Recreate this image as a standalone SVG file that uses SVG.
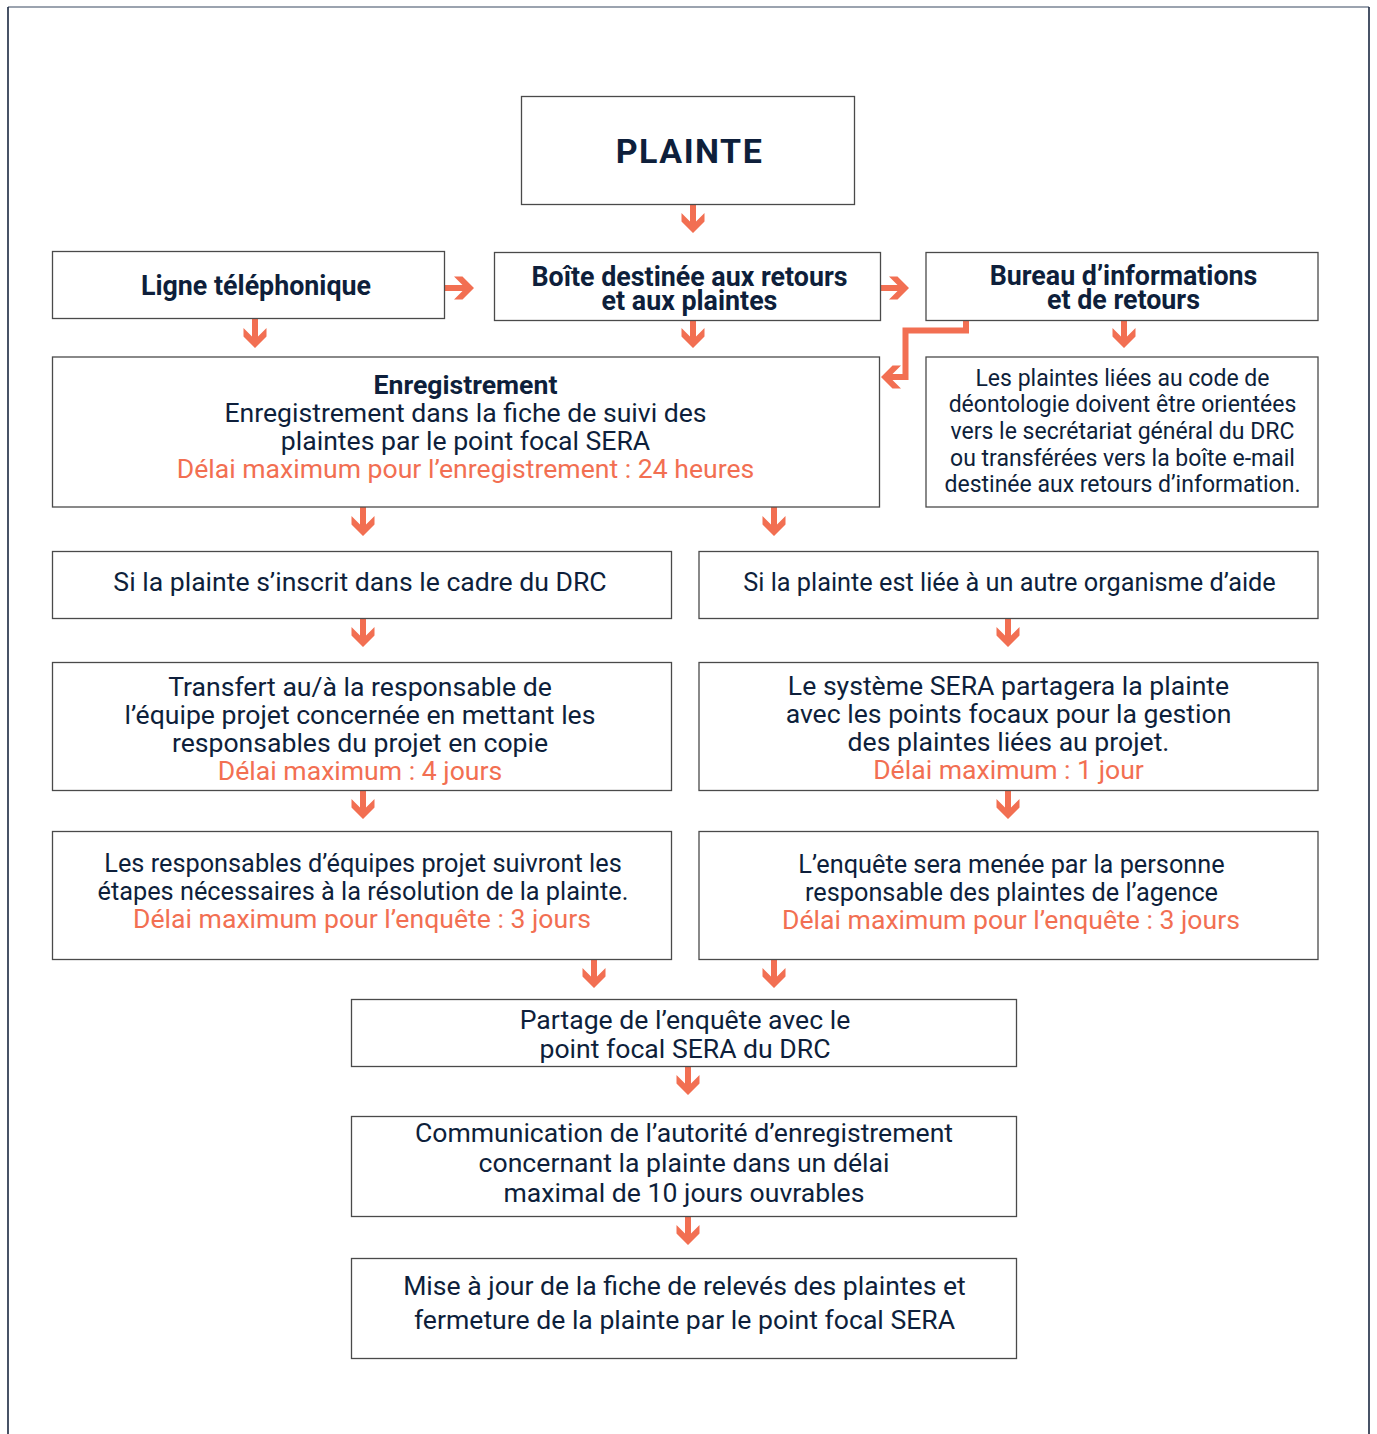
<svg xmlns="http://www.w3.org/2000/svg" xmlns:xlink="http://www.w3.org/1999/xlink" width="1377" height="1434" viewBox="0 0 1377 1434">
  <style>
    .box { fill: #ffffff; stroke: #4a4a4a; stroke-width: 1.3; }
    .t { font-family: Roboto, "Liberation Sans", sans-serif; font-size: 26.6px; fill: #0e1f3b; text-anchor: middle; }
    .h { font-weight: 700; font-size: 26.8px; }
    .o { fill: #f26f52; }
    .sm { font-size: 23px; }
    .md { font-size: 25.3px; }
    .arr { fill: #f26f52; }
    .wire { fill: none; stroke: #f26f52; stroke-width: 6; stroke-linejoin: miter; }
  </style>
  <defs>
    <!-- downward arrow, tip at origin, shaft 29px long -->
    <path id="arrow" d="M0,0 L11.5,-11.5 L11.5,-20 L3,-11.5 L3,-29 L-3,-29 L-3,-11.5 L-11.5,-20 L-11.5,-11.5 Z"/>
    <!-- arrowhead only, tip at origin -->
    <path id="head" d="M0,0 L11.5,-11.5 L11.5,-20 L0,-8.5 L-11.5,-20 L-11.5,-11.5 Z"/>
  </defs>

  <rect width="1377" height="1434" fill="#ffffff"/>

  <!-- page frame -->
  <g id="frame" fill="none" stroke-width="1.6">
    <line x1="8" y1="7" x2="1369" y2="7" stroke="#7a8594"/>
    <line x1="8" y1="7" x2="8" y2="1434" stroke="#1a2740"/>
    <line x1="1369" y1="7" x2="1369" y2="1434" stroke="#1a2740"/>
  </g>

  <g id="connectors" class="arr">
    <use xlink:href="#arrow" transform="translate(693,233)"/>
    <use xlink:href="#arrow" transform="translate(474,288) rotate(-90)"/>
    <use xlink:href="#arrow" transform="translate(909,288) rotate(-90)"/>
    <use xlink:href="#arrow" transform="translate(255,348)"/>
    <use xlink:href="#arrow" transform="translate(693,348)"/>
    <use xlink:href="#arrow" transform="translate(1124,348)"/>
    <polyline class="wire" points="966,320 966,330.5 905.5,330.5 905.5,377 888,377"/>
    <use xlink:href="#head" transform="translate(881,377) rotate(90)"/>
    <use xlink:href="#arrow" transform="translate(363,536)"/>
    <use xlink:href="#arrow" transform="translate(774,536)"/>
    <use xlink:href="#arrow" transform="translate(363,647)"/>
    <use xlink:href="#arrow" transform="translate(1008,647)"/>
    <use xlink:href="#arrow" transform="translate(363,819)"/>
    <use xlink:href="#arrow" transform="translate(1008,819)"/>
    <use xlink:href="#arrow" transform="translate(594,988)"/>
    <use xlink:href="#arrow" transform="translate(774,988)"/>
    <use xlink:href="#arrow" transform="translate(688,1095)"/>
    <use xlink:href="#arrow" transform="translate(688,1245)"/>
  </g>

  <g id="plainte">
    <rect class="box" x="521.5" y="96.5" width="333" height="108"/>
    <text class="t" x="689.5" y="163" style="font-size:34px;font-weight:700;letter-spacing:1.5px">PLAINTE</text>
  </g>

  <g id="ligne">
    <rect class="box" x="52.5" y="251.5" width="392" height="67"/>
    <text class="t h" x="256" y="295">Ligne téléphonique</text>
  </g>

  <g id="boite">
    <rect class="box" x="494.5" y="252.5" width="386" height="68"/>
    <text class="t h" x="689.5" y="286">Boîte destinée aux retours</text>
    <text class="t h" x="689.5" y="310">et aux plaintes</text>
  </g>

  <g id="bureau">
    <rect class="box" x="926" y="252.5" width="392" height="68"/>
    <text class="t h" x="1123.5" y="285">Bureau d’informations</text>
    <text class="t h" x="1123.5" y="309">et de retours</text>
  </g>

  <g id="enregistrement">
    <rect class="box" x="52.5" y="357" width="827" height="150"/>
    <text class="t" x="465.5" y="393.5" font-weight="700">Enregistrement</text>
    <text class="t" x="465.5" y="421.5">Enregistrement dans la fiche de suivi des</text>
    <text class="t" x="465.5" y="449.5">plaintes par le point focal SERA</text>
    <text class="t o" x="465.5" y="477.5">Délai maximum pour l’enregistrement : 24 heures</text>
  </g>

  <g id="deontologie">
    <rect class="box" x="926" y="357" width="392" height="150"/>
    <text class="t sm" x="1122.5" y="385.7">Les plaintes liées au code de</text>
    <text class="t sm" x="1122.5" y="412.3">déontologie doivent être orientées</text>
    <text class="t sm" x="1122.5" y="439">vers le secrétariat général du DRC</text>
    <text class="t sm" x="1122.5" y="465.7">ou transférées vers la boîte e-mail</text>
    <text class="t sm" x="1122.5" y="492.3">destinée aux retours d’information.</text>
  </g>

  <g id="cadre-drc">
    <rect class="box" x="52.5" y="551.5" width="619" height="67"/>
    <text class="t" x="360" y="590.5">Si la plainte s’inscrit dans le cadre du DRC</text>
  </g>

  <g id="autre-organisme">
    <rect class="box" x="699" y="551.5" width="619" height="67"/>
    <text class="t md" x="1009.5" y="590.5">Si la plainte est liée à un autre organisme d’aide</text>
  </g>

  <g id="transfert">
    <rect class="box" x="52.5" y="662.5" width="619" height="128"/>
    <text class="t" x="360" y="696">Transfert au/à la responsable de</text>
    <text class="t" x="360" y="724">l’équipe projet concernée en mettant les</text>
    <text class="t" x="360" y="752">responsables du projet en copie</text>
    <text class="t o" x="360" y="780">Délai maximum : 4 jours</text>
  </g>

  <g id="systeme-sera">
    <rect class="box" x="699" y="662.5" width="619" height="128"/>
    <text class="t" x="1008.5" y="695">Le système SERA partagera la plainte</text>
    <text class="t" x="1008.5" y="723">avec les points focaux pour la gestion</text>
    <text class="t" x="1008.5" y="751">des plaintes liées au projet.</text>
    <text class="t o" x="1008.5" y="779">Délai maximum : 1 jour</text>
  </g>

  <g id="responsables">
    <rect class="box" x="52.5" y="831.5" width="619" height="128"/>
    <text class="t md" x="363" y="872">Les responsables d’équipes projet suivront les</text>
    <text class="t md" x="363" y="900">étapes nécessaires à la résolution de la plainte.</text>
    <text class="t o" x="362" y="928">Délai maximum pour l’enquête : 3 jours</text>
  </g>

  <g id="enquete-agence">
    <rect class="box" x="699" y="831.5" width="619" height="128"/>
    <text class="t md" x="1011.5" y="873">L’enquête sera menée par la personne</text>
    <text class="t md" x="1011.5" y="901">responsable des plaintes de l’agence</text>
    <text class="t o" x="1011" y="929">Délai maximum pour l’enquête : 3 jours</text>
  </g>

  <g id="partage">
    <rect class="box" x="351.5" y="999.5" width="665" height="67"/>
    <text class="t" x="685" y="1029">Partage de l’enquête avec le</text>
    <text class="t" x="685" y="1058">point focal SERA du DRC</text>
  </g>

  <g id="communication">
    <rect class="box" x="351.5" y="1116.5" width="665" height="100"/>
    <text class="t" x="684" y="1142">Communication de l’autorité d’enregistrement</text>
    <text class="t" x="684" y="1172">concernant la plainte dans un délai</text>
    <text class="t" x="684" y="1202">maximal de 10 jours ouvrables</text>
  </g>

  <g id="cloture">
    <rect class="box" x="351.5" y="1258.5" width="665" height="100"/>
    <text class="t" x="684.5" y="1295">Mise à jour de la fiche de relevés des plaintes et</text>
    <text class="t" x="684.5" y="1329">fermeture de la plainte par le point focal SERA</text>
  </g>
</svg>
